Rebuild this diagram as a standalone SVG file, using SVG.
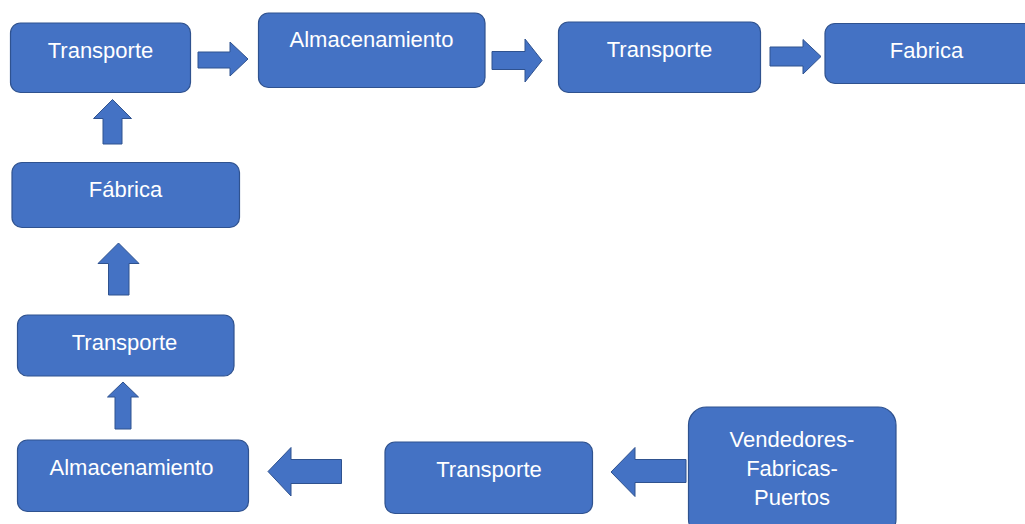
<svg xmlns="http://www.w3.org/2000/svg" width="1025" height="524" viewBox="0 0 1025 524">
<style>
.box{fill:#4472C4;stroke:#2F528F;stroke-width:1.2}
.arr{fill:#4472C4;stroke:#2F528F;stroke-width:1}
.t{fill:#FFFFFF;font-family:"Liberation Sans",Arial,sans-serif;font-size:22px;text-anchor:middle}
</style>
<rect width="1025" height="524" fill="#FFFFFF"/>
<g id="connectors">
<polygon class="arr" points="198,52 230,52 230,42 248,59 230,76 230,68 198,68"/>
<polygon class="arr" points="492,51.5 525,51.5 525,39 542,60.5 525,82 525,69.5 492,69.5"/>
<polygon class="arr" points="770,47 803,47 803,39.5 821,56.5 803,74 803,66 770,66"/>
<polygon class="arr" points="103,144 103,118.5 93.5,118.5 112.5,99.5 131.5,118.5 122,118.5 122,144"/>
<polygon class="arr" points="108.5,295 108.5,263.5 98,263.5 118.5,243 139,263.5 129,263.5 129,295"/>
<polygon class="arr" points="115,429 115,397 107.5,397 123,382 138.5,397 131,397 131,429"/>
<polygon class="arr" points="341.5,459.5 291,459.5 291,447.5 268,471.5 291,496 291,483.5 341.5,483.5"/>
<polygon class="arr" points="686,459.5 635,459.5 635,447.5 611,472 635,496.5 635,482.5 686,482.5"/>
</g>
<g id="n-transporte-1">
<rect class="box" x="10.5" y="23" width="180" height="69.5" rx="10"/>
<text class="t" x="100.5" y="57.5">Transporte</text>
</g>
<g id="n-almacenamiento-1">
<rect class="box" x="258.5" y="13" width="226.5" height="74.5" rx="10"/>
<text class="t" x="371.5" y="47">Almacenamiento</text>
</g>
<g id="n-transporte-2">
<rect class="box" x="558.5" y="22" width="202" height="70.5" rx="10"/>
<text class="t" x="659.5" y="56.5">Transporte</text>
</g>
<g id="n-fabrica-top">
<rect class="box" x="825" y="23.5" width="210" height="60" rx="10"/>
<text class="t" x="926.5" y="58">Fabrica</text>
</g>
<g id="n-fabrica-left">
<rect class="box" x="12" y="162.5" width="227.5" height="65" rx="10"/>
<text class="t" x="125.5" y="196.5">Fábrica</text>
</g>
<g id="n-transporte-3">
<rect class="box" x="17.5" y="315" width="216.5" height="61" rx="10"/>
<text class="t" x="124.5" y="350">Transporte</text>
</g>
<g id="n-almacenamiento-2">
<rect class="box" x="17.5" y="440" width="231" height="71.5" rx="10"/>
<text class="t" x="131.5" y="475">Almacenamiento</text>
</g>
<g id="n-transporte-4">
<rect class="box" x="385" y="442" width="207.5" height="71.5" rx="10"/>
<text class="t" x="489" y="477">Transporte</text>
</g>
<g id="n-vendedores">
<rect class="box" x="688.5" y="407" width="207.5" height="130" rx="18"/>
<text class="t" x="792" y="446.5">Vendedores-</text>
<text class="t" x="792" y="475.5">Fabricas-</text>
<text class="t" x="792" y="505">Puertos</text>
</g>
</svg>
